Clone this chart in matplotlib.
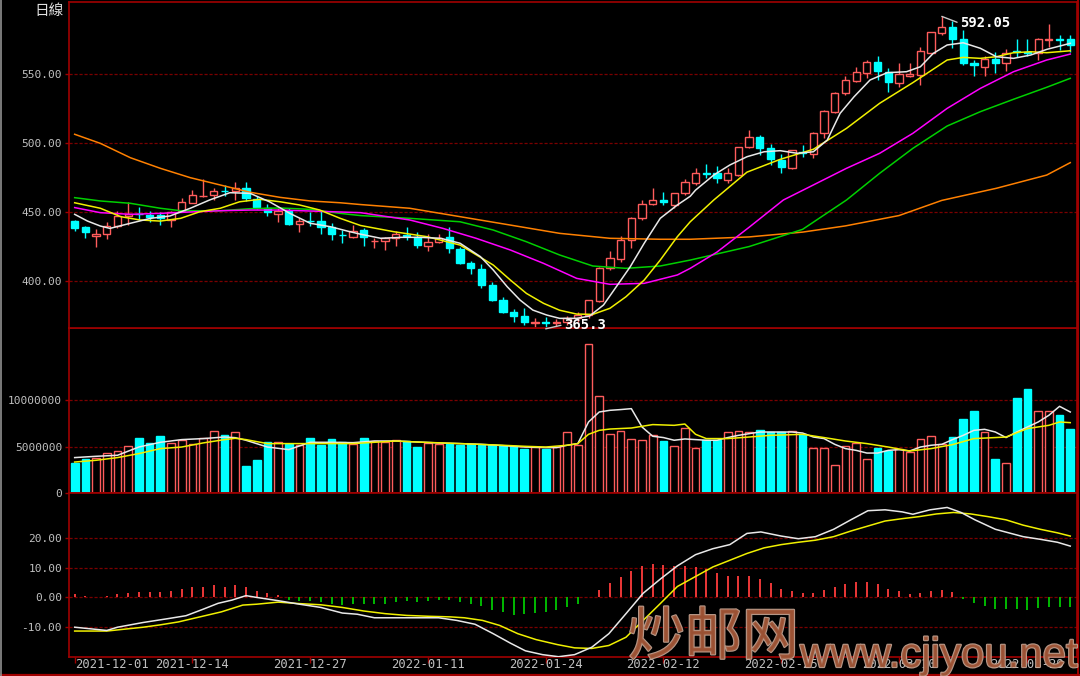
import numpy as np
import matplotlib
matplotlib.use('Agg')
import matplotlib.pyplot as plt
from matplotlib.lines import Line2D
import matplotlib.patheffects as pe

plt.rcParams['font.family'] = ['DejaVu Sans Mono', 'Noto Sans CJK TC']

# ---------------- data ----------------
dates = ['2021-12-01', '2021-12-14', '2021-12-27', '2022-01-11', '2022-01-24',
         '2022-02-12', '2022-02-25', '2022-03-10', '2022-03-29']
date_pos = [0, 11, 22, 33, 44, 55, 66, 77, 89]

opens = [443.5, 439.4, 432.9, 433.9, 440.0, 447.5, 448.8, 448.0, 447.9, 444.3,
         451.0, 456.8, 461.5, 462.4, 465.5, 465.3, 467.7, 459.5, 452.8, 448.6,
         450.8, 441.1, 443.8, 443.5, 439.4, 433.6, 431.9, 437.0, 428.8, 429.0,
         431.4, 433.2, 432.2, 425.6, 428.1, 432.2, 423.2, 412.8, 408.7, 397.1,
         386.2, 377.7, 374.8, 369.8, 370.3, 369.8, 370.0, 372.9, 375.3, 385.5,
         409.2, 415.7, 429.7, 445.5, 455.9, 458.5, 455.2, 463.6, 471.3, 478.5,
         478.2, 473.3, 476.9, 497.0, 504.7, 496.3, 487.8, 481.8, 493.5, 492.2,
         507.2, 522.9, 536.2, 545.4, 551.2, 559.1, 551.9, 543.9, 548.8, 549.5,
         565.7, 579.8, 584.5, 575.4, 558.0, 555.5, 560.9, 558.0, 566.6, 566.0,
         565.7, 575.0, 575.6, 575.4]
highs = [444.0, 440.0, 437.5, 442.6, 450.8, 457.0, 453.5, 451.0, 450.0, 450.8,
         460.0, 466.0, 473.8, 467.7, 469.7, 472.0, 472.0, 461.9, 455.7, 453.2,
         452.8, 445.5, 450.0, 450.8, 442.0, 437.0, 440.6, 438.2, 431.4, 432.2,
         436.3, 439.4, 435.3, 433.9, 434.0, 439.4, 425.0, 414.5, 412.0, 399.0,
         388.6, 379.7, 380.2, 373.4, 374.0, 372.4, 374.8, 377.3, 386.5, 410.4,
         421.8, 432.7, 446.7, 458.8, 467.3, 464.8, 464.1, 473.8, 481.8, 485.0,
         483.5, 481.8, 497.6, 509.6, 506.0, 499.4, 492.2, 495.3, 498.7, 508.0,
         524.0, 537.0, 548.8, 555.5, 560.4, 563.3, 554.4, 558.4, 558.4, 570.0,
         581.0, 592.05, 589.0, 582.0, 560.4, 563.3, 566.4, 568.1, 575.4, 575.4,
         576.1, 586.5, 578.5, 578.5]
lows = [436.3, 431.0, 425.0, 430.3, 438.7, 441.0, 444.0, 443.0, 441.0, 439.0,
        450.0, 456.4, 460.7, 458.8, 462.0, 458.8, 458.0, 452.0, 447.4, 442.6,
        440.6, 435.8, 440.0, 434.0, 429.7, 427.8, 431.0, 425.6, 423.7, 422.5,
        425.6, 429.7, 423.7, 421.8, 427.4, 420.1, 412.0, 405.0, 395.0, 385.5,
        376.6, 370.0, 368.0, 366.8, 365.3, 366.8, 368.0, 370.0, 373.0, 385.0,
        408.0, 414.0, 423.7, 444.3, 455.2, 455.0, 452.8, 462.4, 469.7, 474.5,
        471.3, 471.3, 476.2, 496.3, 491.4, 484.2, 478.6, 481.0, 490.2, 489.0,
        503.6, 521.7, 535.0, 544.6, 547.1, 545.9, 537.4, 540.6, 547.8, 542.2,
        564.7, 578.5, 569.0, 556.7, 548.8, 548.8, 551.2, 552.6, 562.8, 563.3,
        560.4, 570.0, 567.6, 566.4]
closes = [438.7, 435.3, 433.9, 440.1, 447.4, 448.5, 448.3, 446.7, 445.5, 449.9,
          457.5, 462.4, 462.0, 465.3, 465.0, 467.3, 460.0, 453.9, 450.3, 450.8,
          441.1, 443.5, 443.3, 439.0, 433.9, 433.2, 436.3, 432.1, 429.2, 431.0,
          433.9, 432.7, 426.1, 428.1, 431.4, 423.7, 412.8, 409.2, 397.1, 386.2,
          377.7, 374.8, 370.0, 370.2, 369.8, 370.4, 373.4, 375.3, 386.2, 409.2,
          416.5, 429.7, 446.0, 455.9, 458.8, 457.0, 463.6, 472.0, 478.6, 478.0,
          474.5, 478.6, 497.5, 504.7, 496.3, 488.3, 483.0, 495.0, 492.8, 507.7,
          523.6, 536.6, 545.9, 551.9, 559.1, 552.6, 544.6, 550.2, 550.2, 567.1,
          580.9, 584.5, 575.4, 558.0, 557.0, 560.9, 558.0, 565.7, 566.2, 565.4,
          575.4, 575.6, 575.2, 571.3]
volume_m = [3.24, 3.71, 3.82, 4.36, 4.50, 5.07, 5.93, 5.43, 6.12, 5.43,
            5.76, 5.33, 5.98, 6.69, 6.22, 6.58, 2.91, 3.60, 5.54, 5.50,
            5.25, 5.22, 5.90, 5.18, 5.79, 5.50, 5.33, 5.98, 5.58, 5.50,
            5.76, 5.61, 5.00, 5.43, 5.33, 5.33, 5.18, 5.33, 5.18, 5.18,
            5.04, 5.04, 4.79, 4.96, 4.75, 4.96, 6.58, 5.15, 16.04, 10.43,
            6.33, 6.69, 5.87, 5.76, 6.22, 5.58, 5.07, 7.05, 4.85, 5.68,
            5.68, 6.58, 6.69, 6.58, 6.84, 6.58, 6.58, 6.69, 6.40, 4.85,
            4.85, 2.99, 5.07, 5.43, 3.71, 4.90, 4.53, 4.79, 4.42, 5.87,
            6.12, 5.33, 6.04, 8.03, 8.81, 6.58, 3.71, 3.24, 10.29, 11.19,
            8.81, 8.81, 8.46, 6.95]
macd_hist = [1.14, 0.46, 0.2, 0.46, 1.14, 1.6, 1.94, 1.94, 1.94, 2.29,
             2.97, 3.43, 3.66, 4.11, 3.66, 4.11, 3.43, 2.29, 1.6, 0.8,
             -0.91, -1.14, -1.14, -1.6, -2.29, -2.74, -2.29, -2.29, -2.29, -2.29,
             -1.49, -1.14, -1.49, -1.14, -0.91, -0.91, -1.6, -2.29, -2.97, -4.11,
             -5.03, -5.94, -5.71, -5.26, -5.1, -4.34, -3.2, -2.29, 0.0, 2.51,
             4.8, 6.86, 8.8, 10.5, 11.4, 10.97, 10.7, 10.5, 10.3, 9.6,
             8.2, 7.3, 7.3, 7.3, 6.3, 4.8, 2.97, 2.29, 1.6, 1.6,
             2.51, 3.66, 4.46, 5.26, 5.26, 4.46, 2.97, 2.29, 1.14, 1.6,
             2.29, 2.51, 1.94, -0.69, -2.06, -2.97, -3.77, -3.77, -3.77, -4.11,
             -3.54, -3.2, -3.2, -3.2]

# moving averages (bar index, value)
ma5_x = [0, 1.2, 2.4, 3.3, 5.2, 7.1, 8.9, 10.8, 12.6, 14.5, 16.4, 18.2, 20.1, 22, 23.9,
         25.7, 26.7, 28.6, 30.5, 32.3, 34.2, 36, 37.9, 39.1, 40.4, 41.6, 42.8, 44.1, 45.3,
         46.9, 48.1, 49.4, 50.6, 51.9, 53.2, 54.7, 56.3, 57.5, 58, 59.7, 61.2, 62.8, 64.4,
         65.9, 67.5, 69, 70.3, 71.5, 72.8, 74.3, 75.9, 77.7, 79, 80.2, 81.5, 83, 84.6, 86.1,
         87.7, 89.3, 90.8, 93]
ma5_v = [448.4, 443.5, 439.9, 438.2, 441.9, 445.5, 447.2, 452.8, 458.8, 464.1, 463.6, 457.5,
         449.1, 441.9, 439.4, 435.8, 434.0, 431.0, 431.7, 431.7, 431.0, 427.4, 417.7, 408.0,
         395.9, 386.2, 378.9, 375.3, 372.9, 372.9, 374.6, 382.6, 395.9, 410.4, 427.4, 445.5,
         455.2, 461.5, 466.0, 476.9, 484.2, 490.2, 493.8, 494.6, 492.7, 493.8, 502.3, 521.7,
         533.7, 545.9, 551.2, 551.9, 555.5, 565.2, 571.3, 572.9, 568.9, 562.8, 561.6, 564.0,
         568.1, 572.5]
ma10_x = [0, 2.4, 4.3, 6.1, 8, 9.9, 11.7, 13.6, 15.4, 17.3, 19.2, 21, 22.9, 24.8, 26.7,
          29.8, 32.9, 36, 39.1, 40.7, 42.2, 43.8, 45.3, 46.9, 48.4, 50, 51.5, 53.2, 54.7,
          56.3, 57.5, 59.7, 62.8, 65.9, 69, 72.1, 75.2, 78.3, 81.5, 83, 84.6, 86.1, 87.7,
          89.3, 90.8, 93]
ma10_v = [456.8, 452.8, 446.7, 444.3, 443.5, 445.5, 450.3, 452.8, 457.5, 459.3, 457.5, 455.2,
          451.5, 445.5, 440.3, 435.8, 432.2, 426.1, 411.6, 400.7, 391.0, 383.8, 378.8, 376.0,
          375.8, 380.2, 388.6, 400.7, 415.2, 432.2, 443.0, 458.8, 479.0, 488.3, 495.6, 510.8,
          529.0, 544.0, 560.4, 562.3, 561.6, 562.8, 565.7, 566.4, 565.7, 567.1]
ma20_x = [0, 2.4, 5.2, 8, 10.8, 13.6, 16.4, 19.2, 22, 24.8, 26.7, 31.3, 34.4, 37.5, 40.7,
          43.8, 46.9, 50, 53.2, 56.3, 57.5, 60, 63, 66.2, 69, 72.1, 75.2, 78.3, 81.5, 84.6,
          87.7, 90.8, 93]
ma20_v = [453.3, 449.6, 448.4, 449.1, 450.1, 451.0, 451.5, 451.5, 450.8, 450.1, 449.6, 444.3,
          438.2, 431.0, 422.5, 412.8, 401.9, 397.6, 398.3, 404.4, 409.2, 421.0, 439.0, 458.8,
          469.7, 481.8, 492.7, 507.2, 525.3, 539.8, 551.9, 560.4, 564.7]
ma30_x = [0, 2.4, 5.2, 8, 9.9, 13.6, 16.4, 19.2, 22, 24.8, 26.7, 31.3, 36, 39.1, 42.2,
          45.3, 48.4, 51.5, 54.7, 57.5, 63, 68, 72.1, 75.2, 78.3, 81.5, 84.6, 87.7, 90.8, 93]
ma30_v = [460.5, 458.1, 456.4, 452.8, 451.0, 451.0, 452.5, 453.0, 452.0, 449.1, 447.5, 445.5,
          443.0, 437.0, 428.5, 418.9, 410.9, 409.2, 410.9, 415.2, 425.0, 437.5, 458.8, 478.2,
          496.3, 512.5, 522.9, 531.9, 540.6, 547.1]
ma60_x = [0, 2.4, 5.2, 8, 10.8, 13.6, 16.4, 19.2, 22, 24.8, 26.7, 31.3, 36, 40.7, 45.3,
          50, 54.7, 57.5, 63, 68, 72, 77, 81, 86.1, 90.8, 93]
ma60_v = [506.5, 499.9, 489.5, 481.8, 475.0, 469.7, 464.4, 460.7, 458.1, 456.8, 455.5, 452.8,
          446.7, 440.6, 434.6, 431.0, 430.3, 430.3, 432.0, 435.5, 440.0, 447.5, 458.5, 467.3,
          476.9, 485.9]

vma5_x = [0, 2, 4, 6, 8, 10, 12, 14, 15, 16, 18, 20, 22, 24, 26, 28, 30, 32, 34, 36, 38, 40,
          42, 44, 45, 46, 47, 48, 49, 50, 51, 52, 53, 54, 55, 56, 57, 58, 59, 60, 61, 62, 63,
          64, 65, 66, 67, 68, 69, 70, 71, 72, 73, 74, 75, 76, 77, 78, 79, 80, 81, 82, 83, 84,
          85, 86, 87, 88, 89, 90, 91, 92, 93]
vma5_m = [3.82, 3.96, 4.07, 4.96, 5.47, 5.76, 5.87, 6.04, 5.97, 5.69, 4.96, 4.68, 5.47, 5.47,
          5.43, 5.61, 5.61, 5.5, 5.4, 5.33, 5.25, 5.11, 4.96, 4.9, 4.9,
          5.15, 5.33, 7.66, 8.74, 8.92, 9.0, 9.1, 7.12, 6.12, 5.98, 5.69, 5.83, 5.76, 5.69,
          5.69, 5.98, 6.22, 6.4, 6.58, 6.58, 6.58, 6.58, 6.47, 6.04, 5.87, 5.25, 4.79, 4.6,
          4.31, 4.31, 4.6, 4.68, 4.53, 4.96, 5.15, 5.25, 5.76, 6.22, 6.76, 6.87, 6.58, 5.98,
          6.58, 7.12, 7.66, 8.38, 9.35, 8.74]
vma10_x = [0, 2, 4, 6, 8, 10, 12, 14, 15, 16, 18, 20, 22, 26, 30, 32, 36, 40, 42, 44, 46,
           47, 48, 49, 50, 52, 54, 56, 57, 58, 59, 61, 63, 65, 68, 70, 72, 74, 76, 78, 80,
           82, 84, 86, 87, 89, 91, 92, 93]
vma10_m = [3.34, 3.53, 3.82, 4.25, 4.79, 4.96, 5.4, 5.76, 5.9, 5.76, 5.33, 5.33, 5.33, 5.33,
           5.61, 5.5, 5.33, 5.15, 5.04, 4.96, 5.15, 5.33, 6.33, 6.76, 6.9, 7.01, 7.38, 7.3,
           7.44, 6.33, 5.87, 5.87, 6.04, 6.22, 6.33, 5.98, 5.61, 5.33, 4.96, 4.53, 4.79, 5.22,
           5.87, 5.98, 6.04, 6.95, 7.3, 7.66, 7.59]

dif_x = [0, 3, 4, 6.4, 8.7, 10.4, 12, 13.4, 14.7, 16, 17, 19, 21, 23, 25, 26.4, 28, 34, 35.7,
         37.4, 39.1, 40.7, 42.1, 43.7, 45.2, 46.7, 48.3, 49.9, 51.5, 53.1, 54.7, 56.3, 58,
         59.6, 61.2, 62.8, 64.1, 66, 67.6, 69.2, 70.9, 72.5, 74.1, 75.7, 77.3, 78.3, 79.9,
         81.5, 82.8, 84.1, 86, 88.6, 90.2, 91.8, 93]
dif_v = [-10.1, -11.2, -10.1, -8.5, -7.2, -6.2, -4.0, -2.0, -0.9, 0.6, 0.0, -1.1, -2.3, -3.4,
         -5.3, -5.7, -6.9, -6.9, -7.8, -9.1, -12.3, -15.5, -18.1, -19.4, -20.1, -19.4, -16.9,
         -12.3, -5.5, 1.4, 6.2, 10.7, 14.5, 16.5, 17.9, 21.7, 22.2, 20.8, 19.9, 20.6, 23.1,
         26.3, 29.4, 29.7, 29.0, 28.2, 29.7, 30.5, 28.8, 26.3, 23.1, 20.6, 19.7, 18.7, 17.4]
dea_x = [0, 3, 6.4, 8, 9.7, 11.7, 13.7, 15.7, 17, 19, 21, 23, 25, 27, 29, 31, 33.1, 35.1,
         36.4, 38.1, 39.7, 41.4, 43.1, 45.1, 46.7, 48.3, 49.9, 51.5, 53.1, 54.7, 56.3, 58,
         59.6, 61.2, 62.8, 64.4, 66, 67.6, 69.2, 70.9, 72.5, 74.1, 75.7, 77.3, 78.9, 80.5,
         82.1, 83.7, 85.3, 87, 88.6, 90.2, 91.8, 93]
dea_v = [-11.4, -11.4, -10.1, -9.3, -8.3, -6.6, -4.9, -2.6, -2.3, -1.6, -2.1, -2.5, -3.4,
         -4.6, -5.5, -6.1, -6.4, -6.6, -6.9, -7.8, -9.5, -12.3, -14.3, -16.0, -17.1, -17.3,
         -16.3, -13.5, -7.8, -2.1, 3.7, 7.1, 10.3, 12.6, 14.9, 16.8, 17.9, 18.7, 19.4, 20.6,
         22.5, 24.2, 25.9, 26.7, 27.4, 28.3, 28.8, 28.3, 27.4, 26.3, 24.5, 23.1, 21.9, 20.8]

price_ticks = [400, 450, 500, 550]
vol_ticks = [0, 5000000, 10000000]
macd_ticks = [-10, 0, 10, 20]

# ---------------- figure ----------------
W, H = 1080, 676
fig = plt.figure(figsize=(W / 100, H / 100), dpi=100, facecolor='black')


def px_axes(left, top, right, bottom):
    return fig.add_axes([left / W, 1 - bottom / H, (right - left) / W, (bottom - top) / H])


ax1 = px_axes(69, 2, 1077, 328)
ax2 = px_axes(69, 328, 1077, 493)
ax3 = px_axes(69, 493, 1077, 657)
ax1.set_zorder(3)

AXC = '#a00000'
GRID = '#7a0000'
UP = '#ff5c5c'
DOWN = '#00ffff'
LABEL = '#c0c0c0'

for ax in (ax1, ax2, ax3):
    ax.set_facecolor('black')
    for s in ax.spines.values():
        s.set_color(AXC)
        s.set_linewidth(1.2)
    ax.set_xlim(-0.53, 93.63)
    ax.grid(axis='y', color=GRID, linestyle=(0, (2.5, 1.5)), linewidth=0.9)
    ax.set_axisbelow(True)
    ax.tick_params(axis='y', colors=AXC, labelcolor=LABEL, length=3, width=1,
                   pad=2, labelsize=8)
for ax in (ax1, ax2):
    ax.tick_params(axis='x', bottom=False, labelbottom=False)

x = np.arange(len(closes))
o, h, l, c = (np.array(v) for v in (opens, highs, lows, closes))
up = c >= o
col = np.where(up, UP, DOWN)
face = np.where(up, 'black', DOWN)

# candles
ax1.vlines(x, l, h, colors=col, linewidth=1.0, zorder=2)
ax1.bar(x, np.maximum(np.abs(c - o), 0.2), bottom=np.minimum(o, c), width=0.68,
        color=list(face), edgecolor=list(col), linewidth=1.0, zorder=3)
ax1.plot(ma60_x, ma60_v, color='#ff8000', lw=1.1, zorder=4)
ax1.plot(ma30_x, ma30_v, color='#00d000', lw=1.1, zorder=4)
ax1.plot(ma20_x, ma20_v, color='#ff00ff', lw=1.1, zorder=4)
ax1.plot(ma10_x, ma10_v, color='#f0f000', lw=1.1, zorder=4)
ax1.plot(ma5_x, ma5_v, color='#e8e8e8', lw=1.1, zorder=4)
ax1.set_ylim(365.9, 602.5)
ax1.set_yticks(price_ticks, [f'{t:.2f}' for t in price_ticks])

imax = int(np.argmax(h))
imin = int(np.argmin(l))
ax1.annotate(f'{h[imax]:g}', xy=(imax, h[imax]), xytext=(13, -5), textcoords='offset points',
             ha='left', va='center', color='white', fontweight='bold', fontsize=10,
             arrowprops=dict(arrowstyle='-', color='#c8c8c8', lw=1, shrinkA=0, shrinkB=0,
                             relpos=(0, 0.5)), zorder=6, annotation_clip=False)
ax1.annotate(f'{l[imin]:g}', xy=(imin, l[imin]), xytext=(13, 3), textcoords='offset points',
             ha='left', va='center', color='white', fontweight='bold', fontsize=10,
             arrowprops=dict(arrowstyle='-', color='#c8c8c8', lw=1, shrinkA=0, shrinkB=0,
                             relpos=(0, 0.5)), zorder=6, annotation_clip=False)

# volume
vol = np.array(volume_m) * 1e6
ax2.bar(x, vol, width=0.72, color=list(face), edgecolor=list(col), linewidth=1.0, zorder=2)
ax2.plot(vma5_x, np.array(vma5_m) * 1e6, color='#e8e8e8', lw=1.1, zorder=4)
ax2.plot(vma10_x, np.array(vma10_m) * 1e6, color='#f0f000', lw=1.1, zorder=4)
ax2.set_ylim(0, 17.8e6)
ax2.set_yticks(vol_ticks, [str(t) for t in vol_ticks])

# MACD
hist = np.array(macd_hist)
ax3.vlines(x, 0, hist, colors=np.where(hist >= 0, '#ff3c3c', '#00c800'), linewidth=1.3, zorder=2)
ax3.plot(dea_x, dea_v, color='#f0f000', lw=1.1, zorder=4)
ax3.plot(dif_x, dif_v, color='#e8e8e8', lw=1.1, zorder=4)
ax3.set_ylim(-20.2, 35.4)
ax3.set_yticks(macd_ticks, [f'{t:.2f}' for t in macd_ticks])
ax3.set_xticks(date_pos, dates)
ax3.tick_params(axis='x', colors=AXC, labelcolor=LABEL, length=4, width=1, pad=-3,
                labelsize=8.8)
ax3.get_xticklabels()[0].set_horizontalalignment('left')

# title label
fig.text(49 / W, 1 - 11 / H, '日線', family=['Noto Sans CJK TC', 'DejaVu Sans'],
         fontsize=10.5, color='#e0e0e0', ha='center', va='center')

# frame lines
fig.add_artist(Line2D([0, 1], [1.2 / H, 1.2 / H], transform=fig.transFigure, color=AXC, lw=1.6))
fig.add_artist(Line2D([1077.5 / W, 1077.5 / W], [0, 1], transform=fig.transFigure, color=AXC, lw=1.4))
fig.add_artist(Line2D([0.6 / W, 0.6 / W], [0, 1], transform=fig.transFigure, color='#909090', lw=1.2))

# watermark
stroke = [pe.withStroke(linewidth=1.6, foreground='#caa896')]
fig.text(628 / W, 1 - 638 / H, '炒邮网', family=['Noto Sans CJK SC', 'DejaVu Sans'],
         fontsize=41, color='#9c5234', alpha=0.9, ha='left', va='center',
         path_effects=stroke, zorder=10)
wm = fig.text(800 / W, 1 - 667 / H, 'www.cjiyou.net',
              family=['Liberation Sans Narrow', 'Liberation Sans'],
              fontsize=36, color='#9c5234', alpha=0.9, ha='left', va='baseline',
              path_effects=stroke, zorder=10)
fig.canvas.draw()
bw = wm.get_window_extent().width
wm.set_fontsize(36 * 278 / bw)

fig.savefig('out.png', dpi=100, facecolor='black')
